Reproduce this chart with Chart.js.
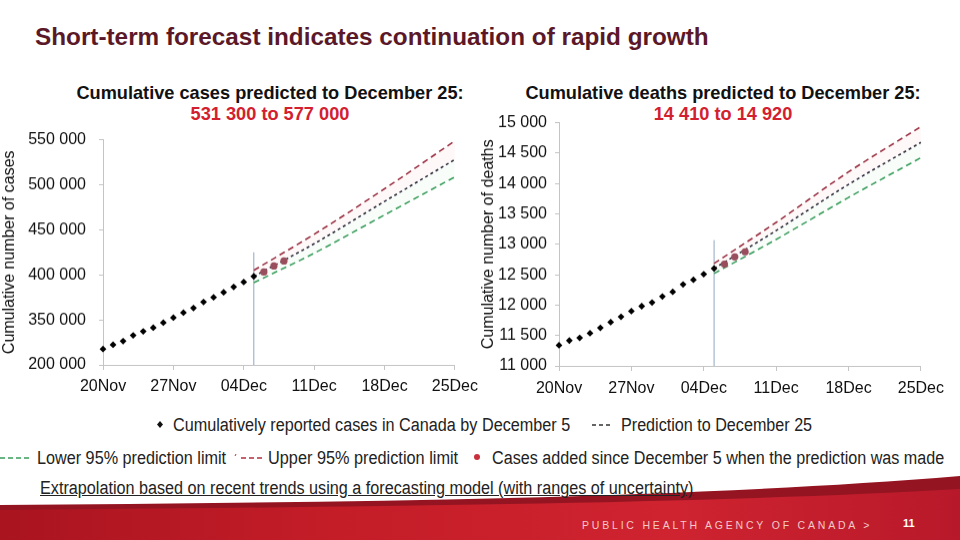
<!DOCTYPE html>
<html><head><meta charset="utf-8">
<script src="https://cdn.jsdelivr.net/npm/chart.js@4"></script>
<style>
html,body{margin:0;padding:0;background:#fff;}
body{width:960px;height:540px;position:relative;overflow:hidden;font-family:"Liberation Sans",Arial,sans-serif;}
.abs{position:absolute;white-space:nowrap;}
#title{left:35px;top:23px;font-size:24.3px;line-height:28px;font-weight:bold;color:#5b1828;}
.ct{font-size:18.2px;font-weight:bold;color:#111;text-align:center;width:500px;line-height:21px;}
.ct .r{color:#d3202e;}
.lg{font-size:18px;line-height:20px;color:#222;transform-origin:0 50%;}
#foottxt{left:582px;top:519px;font-size:10.5px;letter-spacing:2.8px;color:#f3c9c9;}
#pg{left:903px;top:517px;font-size:11px;font-weight:bold;color:#fff;}
canvas{position:absolute;}
</style></head>
<body>
<svg class="abs" style="left:0;top:0" width="960" height="540">
<defs>
<linearGradient id="g1" x1="0" y1="0" x2="1" y2="0">
<stop offset="0" stop-color="#a9141f"/><stop offset="0.35" stop-color="#c41d28"/><stop offset="0.7" stop-color="#cf2330"/><stop offset="1" stop-color="#b8192a"/>
</linearGradient>
</defs>
<path d="M0,505 C350,502 680,499 960,476 L960,540 L0,540 Z" fill="#951421"/>
<path d="M0,510 C350,507 700,504 960,489 L960,540 L0,540 Z" fill="url(#g1)"/>
<!-- legend symbols -->
<polygon points="160,421 163,424.5 160,428 157,424.5" fill="#111"/>
<line x1="592" y1="425" x2="611" y2="425" stroke="#333" stroke-width="1.5" stroke-dasharray="4,3"/>
<line x1="0" y1="458" x2="30" y2="458" stroke="#3a9d5c" stroke-width="1.5" stroke-dasharray="5,3"/>
<line x1="235" y1="456" x2="236" y2="454" stroke="#b03040" stroke-width="1"/>
<line x1="241" y1="458" x2="262" y2="458" stroke="#b03040" stroke-width="1.5" stroke-dasharray="5,3"/>
<circle cx="477" cy="457" r="3" fill="#c8303c"/>
</svg>
<div id="title" class="abs">Short-term forecast indicates continuation of rapid growth</div>
<div class="abs ct" style="left:20px;top:83px;">Cumulative cases predicted to December 25:<br><span class="r">531 300 to 577 000</span></div>
<div class="abs ct" style="left:473px;top:83px;">Cumulative deaths predicted to December 25:<br><span class="r">14 410 to 14 920</span></div>
<canvas id="c1"></canvas>
<canvas id="c2"></canvas>
<span class="abs lg" data-w="397" style="left:173px;top:415px;">Cumulatively reported cases in Canada by December 5</span>
<span class="abs lg" data-w="191" style="left:621px;top:415px;">Prediction to December 25</span>
<span class="abs lg" data-w="189" style="left:37px;top:448px;">Lower 95% prediction limit</span>
<span class="abs lg" data-w="190" style="left:268px;top:448px;">Upper 95% prediction limit</span>
<span class="abs lg" data-w="452" style="left:492px;top:448px;">Cases added since December 5 when the prediction was made</span>
<span class="abs lg" data-w="653" style="left:40px;top:478px;text-decoration:underline;">Extrapolation based on recent trends using a forecasting model (with ranges of uncertainty)</span>
<div id="foottxt" class="abs">PUBLIC HEALTH AGENCY OF CANADA &gt;</div>
<div id="pg" class="abs">11</div>
<script>
// ---- data ----
const xTickDays = [0, 7, 14, 21, 28, 35];
const xTickLabels = ["20Nov", "27Nov", "04Dec", "11Dec", "18Dec", "25Dec"];
const reportedDays = [0,1,2,3,4,5,6,7,8,9,10,11,12,13,14,15];
const addedDays = [16, 17, 18];
const predDays = [15, 21, 28, 35];
const predictionMadeDay = 15;

const casesReported = [317600,322400,326400,332800,337200,341300,346900,352400,358000,363100,369800,375000,380600,386500,392000,398300];
const casesAdded = [403100, 409800, 415400];
const casesUpper = [405000, 445000, 495500, 548700];
const casesMid   = [398300, 434500, 481500, 528000];
const casesLower = [391300, 424000, 466500, 508700];
const casesTickValues = [300000, 350000, 400000, 450000, 500000, 550000];
const casesTickLabels = ["200 000", "350 000", "400 000", "450 000", "500 000", "550 000"];
const casesMarkerRange = [300000, 425000];

const deathsReported = [11340,11417,11461,11538,11626,11719,11807,11900,11982,12043,12141,12218,12339,12416,12509,12602];
const deathsAdded = [12674, 12794, 12877];
const deathsUpper = [12685, 13360, 14190, 14934];
const deathsMid   = [12602, 13225, 13985, 14676];
const deathsLower = [12520, 13080, 13770, 14424];
const deathsTickValues = [11000,11500,12000,12500,13000,13500,14000,14500,15000];
const deathsTickLabels = ["11 000","11 500","12 000","12 500","13 000","13 500","14 000","14 500","15 000"];
const deathsMarkerRange = [11000, 13069];

// ---- legend text fitting ----
document.querySelectorAll('.lg').forEach(el => {
  const w = +el.dataset.w;
  el.style.transform = 'scaleX(' + (w / el.offsetWidth) + ')';
});

// ---- charts ----
const pts = (xs, ys) => xs.map((x, i) => ({x: x, y: ys[i]}));
const FONT = {family: '"Liberation Sans", Arial, sans-serif', size: 16};

function build(canvas, o, box) {
  canvas.width = box.w; canvas.height = box.h;
  canvas.style.left = box.x + 'px'; canvas.style.top = box.y + 'px';
  canvas.style.width = box.w + 'px'; canvas.style.height = box.h + 'px';
  const predLine = {pointRadius: 0, borderWidth: 1.6, cubicInterpolationMode: 'monotone', order: 3};
  const datasets = [
    {data: pts([predictionMadeDay, predictionMadeDay], o.marker), borderColor: '#8fa6c4', borderWidth: 1, pointRadius: 0, fill: false, order: 5},
    Object.assign({data: pts(predDays, o.upper), borderColor: '#9b3446', borderDash: [6, 4], fill: '+1', backgroundColor: 'rgba(235,150,160,0.07)'}, predLine),
    Object.assign({data: pts(predDays, o.mid), borderColor: '#2d2f3e', borderDash: [3, 3], fill: '+1', backgroundColor: 'rgba(150,220,185,0.07)'}, predLine),
    Object.assign({data: pts(predDays, o.lower), borderColor: '#3a9d5c', borderDash: [6, 4], fill: false}, predLine),
    {data: pts(reportedDays, o.reported), showLine: false, pointStyle: 'rectRot', pointRadius: 3.4, pointBackgroundColor: '#000', pointBorderColor: '#000', pointBorderWidth: 0, order: 1},
    {data: pts(addedDays, o.added), showLine: false, pointStyle: 'circle', pointRadius: 3.6, pointBackgroundColor: '#9a4d5c', pointBorderColor: '#9a4d5c', pointBorderWidth: 0, order: 1}
  ];
  datasets.forEach(d => d.clip = false);
  return new Chart(canvas, {
    type: 'line',
    data: {datasets: datasets},
    options: {
      responsive: false, animation: false, devicePixelRatio: 1,
      layout: {padding: {top: 14, right: 30, left: 0, bottom: 0}},
      plugins: {legend: {display: false}, tooltip: {enabled: false}},
      scales: {
        x: {
          type: 'linear', min: 0, max: 35,
          afterBuildTicks: s => { s.ticks = xTickDays.map(v => ({value: v})); },
          afterFit: s => { s.height = 32; },
          ticks: {callback: (v, i) => xTickLabels[i], color: '#111', font: FONT, padding: o.xPad, maxRotation: 0, autoSkip: false},
          grid: {drawOnChartArea: false, drawTicks: true, tickLength: 5, color: '#c4c4c4'},
          border: {color: '#c4c4c4', width: 1}
        },
        y: {
          type: 'linear', min: o.yMin, max: o.yMax,
          afterBuildTicks: s => { s.ticks = o.tickValues.map(v => ({value: v})); },
          afterFit: s => { s.width = o.yWidth; },
          ticks: {callback: (v, i) => o.tickLabels[i], color: '#111', font: FONT, padding: o.tickPad, autoSkip: false},
          grid: {drawOnChartArea: false, drawTicks: true, tickLength: 4, color: '#c4c4c4'},
          border: {color: '#c4c4c4', width: 1},
          title: {display: true, text: o.yTitle, color: '#111', font: FONT, padding: o.titlePad}
        }
      }
    }
  });
}

// place chart so its plot area lands on the target rectangle
function place(id, o, t) {
  const canvas = document.getElementById(id);
  let box = {x: t.left - o.yWidth, y: t.top - 14, w: (t.right - t.left) + o.yWidth + 30, h: (t.bottom - t.top) + 14 + 32};
  let chart = null;
  for (let k = 0; k < 4; k++) {
    if (chart) chart.destroy();
    chart = build(canvas, o, box);
    const a = chart.chartArea;
    const dTop = t.top - (box.y + a.top), dBottom = t.bottom - (box.y + a.bottom);
    const dLeft = t.left - (box.x + a.left), dRight = t.right - (box.x + a.right);
    if (Math.abs(dTop) + Math.abs(dBottom) + Math.abs(dLeft) + Math.abs(dRight) < 0.3) break;
    box = {x: box.x + dLeft, y: box.y + dTop, w: box.w + (dRight - dLeft), h: box.h + (dBottom - dTop)};
  }
  return chart;
}

place('c1', {
  reported: casesReported, added: casesAdded, upper: casesUpper, mid: casesMid, lower: casesLower,
  marker: casesMarkerRange, yMin: 300000, yMax: 550000, tickValues: casesTickValues, tickLabels: casesTickLabels,
  yTitle: 'Cumulative number of cases', yWidth: 103, tickPad: 13, xPad: 7, titlePad: {top: 0, bottom: 0}
}, {left: 103, right: 455, top: 139.5, bottom: 364.5});
place('c2', {
  reported: deathsReported, added: deathsAdded, upper: deathsUpper, mid: deathsMid, lower: deathsLower,
  marker: deathsMarkerRange, yMin: 11000, yMax: 15000, tickValues: deathsTickValues, tickLabels: deathsTickLabels,
  yTitle: 'Cumulative number of deaths', yWidth: 84, tickPad: 8, xPad: 8, titlePad: {top: 4, bottom: 0}
}, {left: 559, right: 921, top: 122.7, bottom: 365.7});
</script>
</body></html>
